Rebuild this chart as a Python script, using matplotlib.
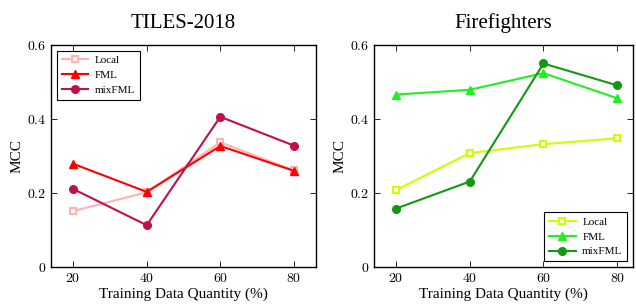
import numpy as np
import matplotlib.pyplot as plt

plt.rcParams['font.family'] = ['Liberation Serif', 'DejaVu Serif']
plt.rcParams['mathtext.fontset'] = 'cm'

quantity = [20, 40, 60, 80]
yticks = [0, 0.2, 0.4, 0.6]
ytick_labels = ['$0$', '$0.2$', '$0.4$', '$0.6$']

# TILES-2018
tiles_local = [0.151, 0.202, 0.337, 0.261]
tiles_fml = [0.279, 0.203, 0.327, 0.260]
tiles_mix = [0.211, 0.113, 0.406, 0.328]

# Firefighters
fire_local = [0.208, 0.308, 0.332, 0.348]
fire_fml = [0.466, 0.479, 0.524, 0.456]
fire_mix = [0.158, 0.231, 0.550, 0.491]

fig = plt.figure(figsize=(6.36, 3.05), dpi=100)
ax1 = fig.add_axes([51/636, 38/305, 265/636, 222/305])
ax2 = fig.add_axes([374/636, 38/305, 259/636, 222/305])

def draw(ax, local, fml, mix, colors, title, xmax, loc):
    ax.plot(quantity, local, '-s', color=colors[0], lw=1.5, ms=5, mfc='white', mew=1.5, label='Local')
    ax.plot(quantity, fml, '-^', color=colors[1], lw=1.5, ms=5.5, label='FML')
    ax.plot(quantity, mix, '-o', color=colors[2], lw=1.5, ms=5.5, label='mixFML')
    ax.set_xlim(14, xmax)
    ax.set_ylim(0, 0.6)
    ax.set_xticks(quantity)
    ax.set_xticklabels(['$%d$' % q for q in quantity])
    ax.set_yticks(yticks)
    ax.set_yticklabels(ytick_labels)
    ax.tick_params(direction='in', top=True, right=True, labelsize=10, length=4, width=0.6)
    for s in ax.spines.values():
        s.set_linewidth(1.0)
    ax.set_xlabel('Training Data Quantity (%)', fontsize=11, labelpad=2)
    ax.set_ylabel('MCC', fontsize=11, labelpad=2)
    ax.set_title(title, fontsize=15, pad=12)
    leg = ax.legend(loc=loc, fontsize=8, fancybox=False, edgecolor='black', framealpha=1,
                    handlelength=2.4, handletextpad=0.6, borderpad=0.45, labelspacing=0.45)
    leg.get_frame().set_linewidth(0.8)

draw(ax1, tiles_local, tiles_fml, tiles_mix, ['#ffb3b3', '#ff0000', '#c0104a'],
     'TILES-2018', 86, 'upper left')
draw(ax2, fire_local, fire_fml, fire_mix, ['#ccff00', '#22ee22', '#119911'],
     'Firefighters', 84.3, 'lower right')

plt.savefig('out.png', dpi=100)
